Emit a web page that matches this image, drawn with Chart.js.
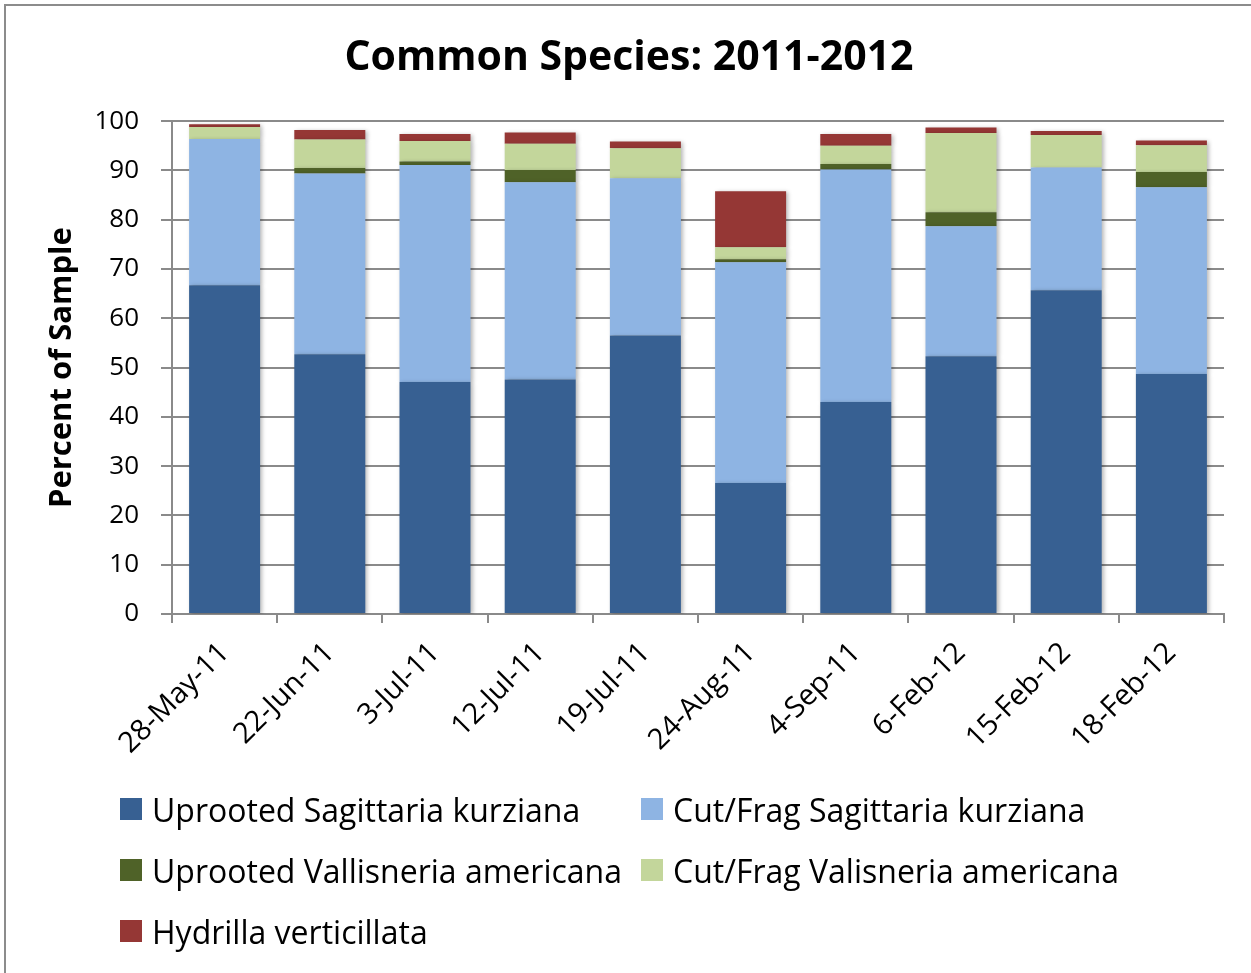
<!DOCTYPE html>
<html>
<head>
<meta charset="utf-8">
<script src="https://cdn.jsdelivr.net/npm/chart.js@4"></script>
<style>
  html, body { margin: 0; padding: 0; background: #fff; }
  body { width: 1251px; height: 973px; position: relative; overflow: hidden; font-family: 'Open Sans', sans-serif; }
  #frame { position: absolute; left: 4px; top: 4px; width: 2000px; height: 2000px;
           border-top: 2px solid #8c8c8c; border-left: 2px solid #8c8c8c; }
  #wrap { position: absolute; left: 0; top: 0; width: 1251px; height: 973px; }
  #legend { position: absolute; left: 120px; top: 789px; display: grid;
            grid-template-columns: 521px 560px; row-gap: 21px; }
  .item { display: flex; align-items: center; height: 40px; font-size: 32px; color: #000; white-space: nowrap; }
  .box { width: 22px; height: 22px; margin-right: 10px; flex: none; }
</style>
</head>
<body>
<div id="frame"></div>
<div id="wrap"><canvas id="barchart"></canvas></div>
<div id="legend"></div>
<script>
const dates = ['28-May-11', '22-Jun-11', '3-Jul-11', '12-Jul-11', '19-Jul-11', '24-Aug-11', '4-Sep-11', '6-Feb-12', '15-Feb-12', '18-Feb-12'];

const uprootedSag = [66.7, 52.7, 47.1, 47.6, 56.5, 26.6, 43.0, 52.3, 65.7, 48.7];
const cutSag      = [29.7, 36.7, 44.0, 40.0, 31.9, 44.8, 47.2, 26.4, 24.9, 37.9];
const uprootedVal = [0, 1.1, 0.7, 2.5, 0, 0.6, 1.1, 2.8, 0, 3.1];
const cutVal      = [2.4, 5.8, 4.2, 5.3, 6.1, 2.4, 3.7, 16.1, 6.6, 5.4];
const hydrilla    = [0.6, 1.9, 1.4, 2.3, 1.4, 11.4, 2.4, 1.1, 0.8, 1.0];

const yTicks = [0, 10, 20, 30, 40, 50, 60, 70, 80, 90, 100];

const series = [
  { label: 'Uprooted Sagittaria kurziana', data: uprootedSag, color: '#376092' },
  { label: 'Cut/Frag Sagittaria kurziana', data: cutSag, color: '#8eb4e3' },
  { label: 'Uprooted Vallisneria americana', data: uprootedVal, color: '#4f6228' },
  { label: 'Cut/Frag Valisneria americana', data: cutVal, color: '#c3d69b' },
  { label: 'Hydrilla verticillata', data: hydrilla, color: '#953735' }
];

const font = "'Open Sans', sans-serif";
const grey = '#8a8a8a';

// soft drop shadow behind the bars
const barShadow = {
  id: 'barShadow',
  beforeDatasetsDraw(chart) {
    const c = chart.ctx;
    c.save();
    c.shadowColor = 'rgba(0,0,0,0.28)';
    c.shadowBlur = 4;
    c.shadowOffsetX = 2;
    c.shadowOffsetY = 1;
  },
  afterDatasetsDraw(chart) { chart.ctx.restore(); }
};

const ctx = document.getElementById('barchart');

new Chart(ctx, {
  type: 'bar',
  data: {
    labels: dates,
    datasets: series.map(s => ({
      label: s.label,
      data: s.data,
      backgroundColor: s.color,
      borderWidth: 0,
      categoryPercentage: 1,
      barPercentage: 0.675
    }))
  },
  options: {
    responsive: true,
    maintainAspectRatio: false,
    animation: false,
    layout: { padding: { left: 7, right: 0, top: 0, bottom: 209 } },
    plugins: {
      legend: { display: false },
      tooltip: { enabled: false },
      title: {
        display: true,
        text: 'Common Species: 2011-2012',
        color: '#000',
        font: { family: font, size: 41, weight: 'bold', lineHeight: 1.2 },
        padding: { top: 34, bottom: 38 }
      }
    },
    scales: {
      x: {
        stacked: true,
        afterFit: s => { s.height = 150; },
        border: { display: true, color: grey, width: 2 },
        grid: { offset: true, drawOnChartArea: false, drawTicks: true, tickLength: 9, color: grey, lineWidth: 2 },
        ticks: {
          color: '#000', maxRotation: 45, minRotation: 45, padding: 13,
          font: { family: font, size: 29 }
        }
      },
      y: {
        stacked: true,
        min: 0, max: 100,
        afterFit: s => { s.width = 165; },
        afterBuildTicks: s => { s.ticks = yTicks.map(v => ({ value: v })); },
        border: { display: true, color: grey, width: 2 },
        grid: { color: grey, lineWidth: 2, tickLength: 11 },
        ticks: { color: '#000', padding: 22, font: { family: font, size: 26 } },
        title: {
          display: true,
          text: 'Percent of Sample',
          color: '#000',
          font: { family: font, size: 31, weight: 'bold', lineHeight: 1.2 },
          padding: { top: 37, bottom: 0 }
        }
      },
      // empty strip on the right of the plot
      spacer: {
        type: 'linear',
        position: 'right',
        afterFit: s => { s.width = 27; },
        grid: { display: false },
        border: { display: false },
        ticks: { display: false }
      }
    }
  },
  plugins: [barShadow]
});

// legend laid out in two columns
const legend = document.getElementById('legend');
series.forEach(s => {
  const item = document.createElement('div');
  item.className = 'item';
  const box = document.createElement('span');
  box.className = 'box';
  box.style.background = s.color;
  item.appendChild(box);
  item.appendChild(document.createTextNode(s.label));
  legend.appendChild(item);
});
</script>
</body>
</html>
